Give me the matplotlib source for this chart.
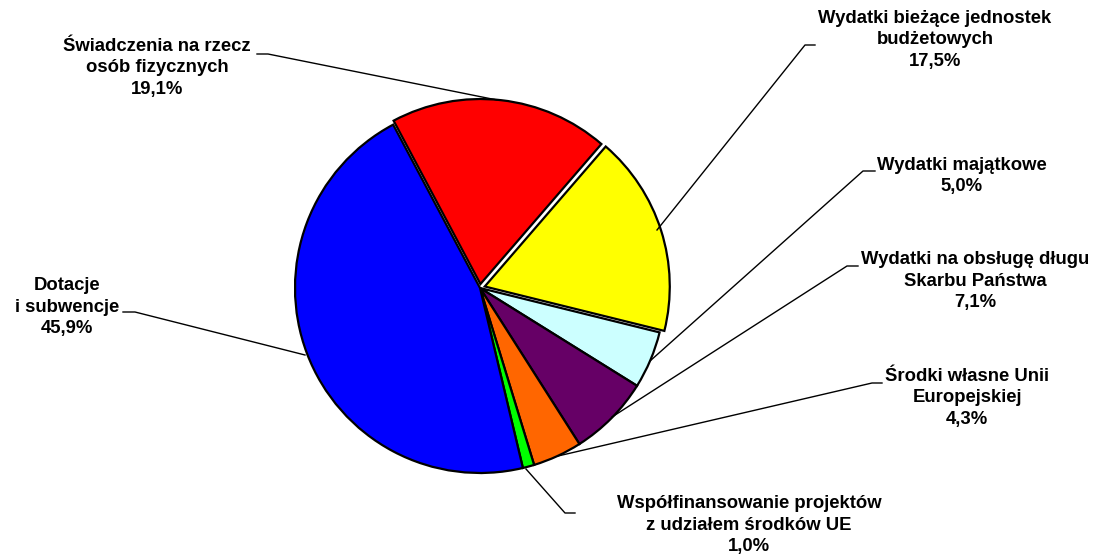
import matplotlib
matplotlib.use('Agg')
import matplotlib.pyplot as plt

# data (clockwise from the red slice)
labels = ['Świadczenia na rzecz\nosób fizycznych',
          'Wydatki bieżące jednostek\nbudżetowych',
          'Wydatki majątkowe',
          'Wydatki na obsługę długu\nSkarbu Państwa',
          'Środki własne Unii\nEuropejskiej',
          'Współfinansowanie projektów\nz udziałem środków UE',
          'Dotacje\ni subwencje']
shares = [19.1, 17.5, 5.0, 7.1, 4.3, 1.0, 45.9]
colors = ['#FF0000', '#FFFF00', '#CCFFFF', '#660066', '#FF6600', '#00FF00', '#0000FF']

W, H = 1099, 556

# label layout in pixel coords (y down): text centre, leader polyline
text_pos = [(157, 68), (935, 40), (962, 176), (975, 281), (967, 398), (749, 525), (67, 307)]
leaders = [
    [(257, 54), (268, 54), (497, 100)],
    [(815, 45), (805, 45), (657, 230)],
    [(875, 171), (863, 171), (650, 361)],
    [(858, 266), (847, 266), (612, 417)],
    [(882, 383), (872, 383), (558, 456)],
    [(575, 513), (565, 513), (526, 469)],
    [(123, 312), (135, 312), (305, 355)],
]


def fmt(v):
    return ('%.1f%%' % v).replace('.', ',')


fig = plt.figure(figsize=(W / 100, H / 100), dpi=100)
ax = fig.add_axes([0, 0, 1, 1])
ax.pie(shares, colors=colors, startangle=118, counterclock=False,
       center=(480, H - 288), radius=185,
       explode=[4, 5, 0, 0, 0, 0, 0],
       wedgeprops=dict(edgecolor='black', linewidth=1.6))
ax.set_xlim(0, W)
ax.set_ylim(0, H)
ax.set_aspect('equal')
ax.axis('off')

for lab, v, (tx, ty), pts in zip(labels, shares, text_pos, leaders):
    ax.plot([p[0] for p in pts], [H - p[1] for p in pts], color='black', lw=1.0)
    ax.text(tx, H - ty, lab + '\n' + fmt(v), ha='center', va='center',
            fontsize=13.3, fontweight='bold', family='Liberation Sans',
            linespacing=1.35)

fig.savefig('out.png', dpi=100)
